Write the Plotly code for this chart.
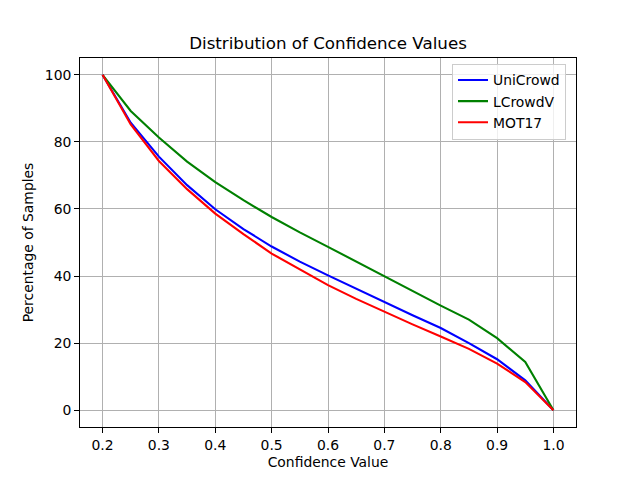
import plotly.graph_objects as go

confidence = [0.2, 0.25, 0.3, 0.35, 0.4, 0.45, 0.5, 0.55, 0.6, 0.65, 0.7, 0.75, 0.8, 0.85, 0.9, 0.95, 1.0]
unicrowd = [100, 85.7, 75.6, 67.1, 59.9, 54.0, 48.8, 44.3, 40.2, 36.2, 32.2, 28.3, 24.5, 20.0, 15.2, 8.9, 0]
lcrowdv = [100, 89.2, 81.3, 74.1, 68.0, 62.6, 57.6, 53.0, 48.7, 44.3, 39.9, 35.5, 31.2, 27.0, 21.5, 14.4, 0]
mot17 = [100, 85.2, 74.3, 65.9, 58.6, 52.5, 46.7, 42.0, 37.3, 33.2, 29.3, 25.6, 22.0, 18.3, 13.9, 8.4, 0]

series = [("UniCrowd", unicrowd, "blue"), ("LCrowdV", lcrowdv, "green"), ("MOT17", mot17, "red")]

fig = go.Figure()
for name, vals, color in series:
    fig.add_trace(go.Scatter(x=confidence, y=vals, mode="lines", name=name,
                             line=dict(color=color, width=2.1)))

font = "DejaVu Sans"
fig.update_layout(
    width=640, height=480,
    margin=dict(l=72, r=72, t=50, b=61),
    paper_bgcolor="white", plot_bgcolor="white",
    font=dict(family=font, size=13.9, color="black"),
    title=dict(text="Distribution of Confidence Values", x=0.5, xanchor="center", xref="paper",
               y=1 - 35 / 480, yanchor="middle", font=dict(size=16.7, family=font)),
    legend=dict(x=0.75, y=0.985, xanchor="left", yanchor="top",
                bgcolor="rgba(255,255,255,0.8)", bordercolor="#cccccc", borderwidth=1,
                font=dict(size=13.9, family=font), tracegroupgap=0),
    showlegend=True,
)
axis_common = dict(showline=True, linecolor="black", linewidth=1, mirror=True,
                   ticks="outside", ticklen=4.9, tickwidth=1, tickcolor="black",
                   showgrid=True, gridcolor="#b0b0b0", gridwidth=1, zeroline=False,
                   tickfont=dict(size=13.9, family=font))
fig.update_xaxes(range=[0.16, 1.04], tickvals=[0.2, 0.3, 0.4, 0.5, 0.6, 0.7, 0.8, 0.9, 1.0],
                 ticktext=["0.2", "0.3", "0.4", "0.5", "0.6", "0.7", "0.8", "0.9", "1.0"],
                 title=dict(text="Confidence Value", standoff=5, font=dict(size=13.9, family=font)),
                 **axis_common)
fig.update_yaxes(range=[-5, 105], tickvals=[0, 20, 40, 60, 80, 100],
                 title=dict(text="Percentage of Samples", standoff=7, font=dict(size=13.9, family=font)),
                 **axis_common)

fig.write_html("out.html")
